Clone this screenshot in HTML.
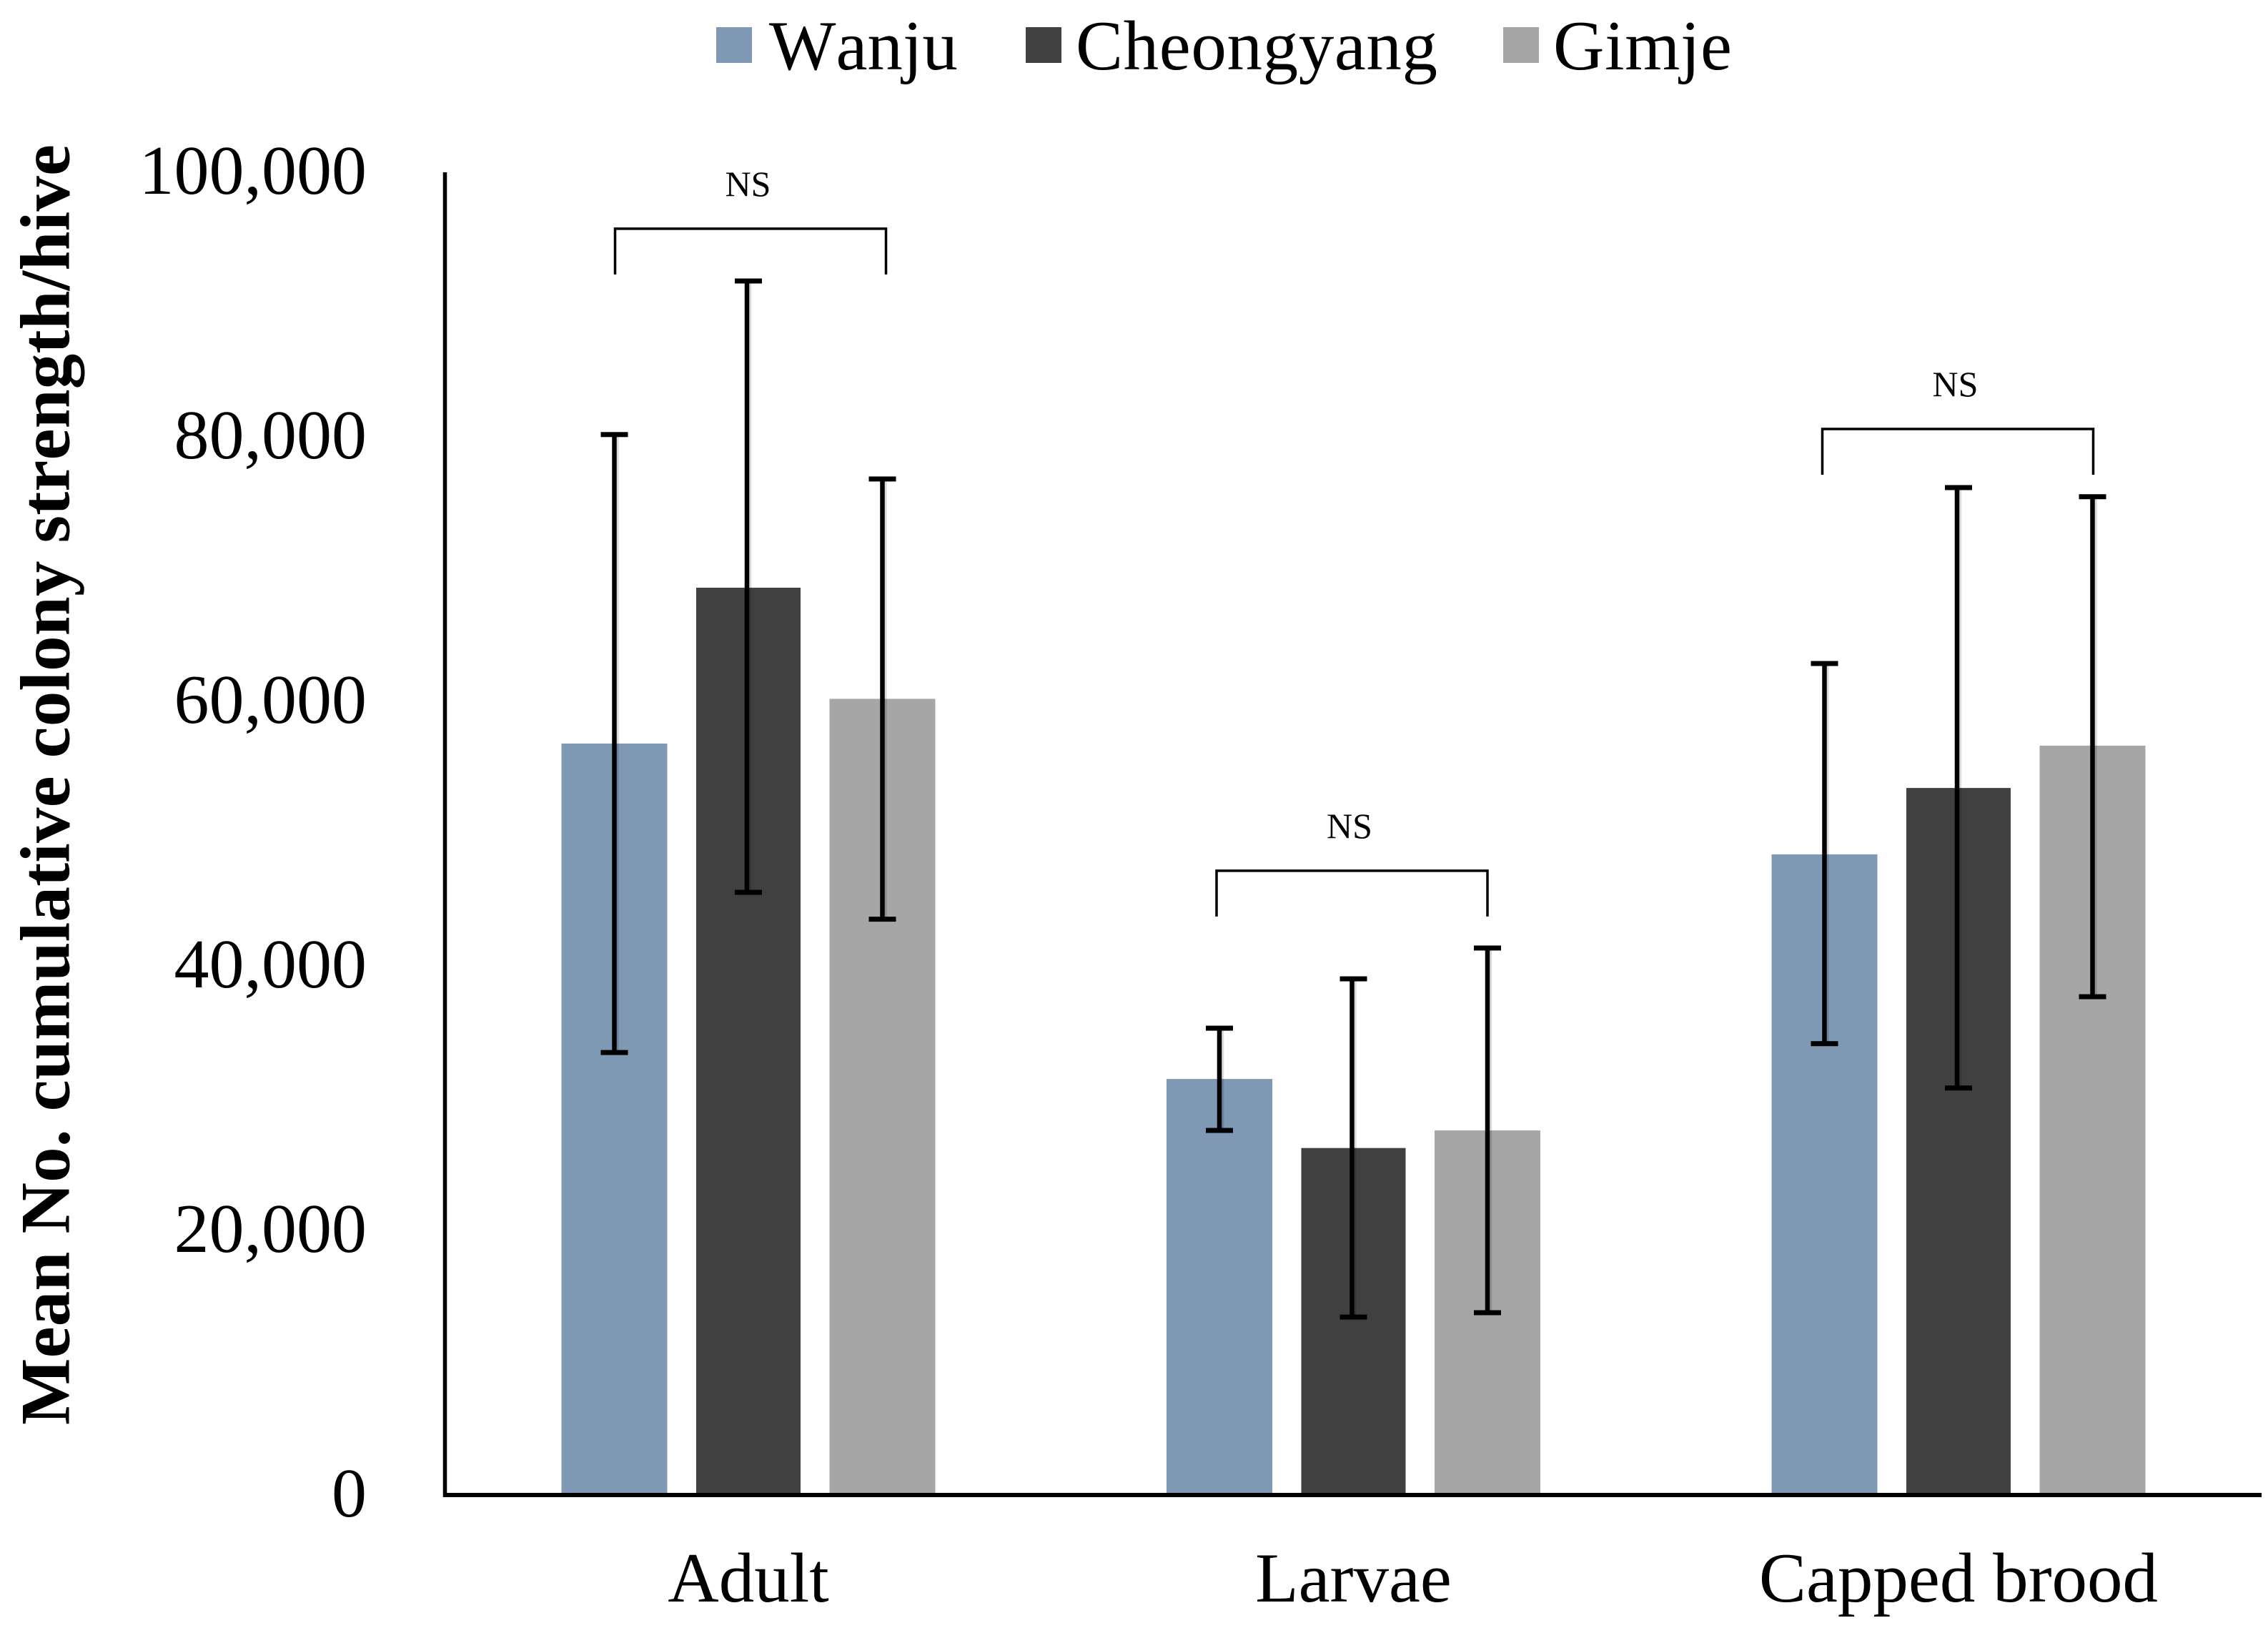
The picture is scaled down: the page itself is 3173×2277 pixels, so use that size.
<!DOCTYPE html>
<html lang="en">
<head>
<meta charset="utf-8">
<title>Mean cumulative colony strength per hive</title>
<style>
  html, body { margin: 0; padding: 0; background: #ffffff; }
  svg { display: block; }
  text { font-family: "Liberation Serif", "Times New Roman", serif; fill: #000000; font-kerning: none; }
</style>
</head>
<body>
<svg id="chart" xmlns="http://www.w3.org/2000/svg" width="3173" height="2277" viewBox="0 0 3173 2277">
  <rect x="0" y="0" width="3173" height="2277" fill="#ffffff"/>

  <g>
    <rect x="1002" y="38" width="50" height="50" fill="#7f98b3"/>
    <text x="1076" y="97" font-size="99">Wanju</text>
    <rect x="1435" y="38" width="50" height="50" fill="#404040"/>
    <text x="1505" y="97" font-size="99" textLength="506" lengthAdjust="spacing">Cheongyang</text>
    <rect x="2103" y="38" width="50" height="50" fill="#a6a6a6"/>
    <text x="2173" y="97" font-size="99" textLength="250" lengthAdjust="spacing">Gimje</text>
  </g>

  <text transform="translate(96.5 1993) rotate(-90)" font-size="99" font-weight="bold" textLength="1791" lengthAdjust="spacing">Mean No. cumulative colony strength/hive</text>

  <g id="bars"></g>
  <g id="errors"></g>
  <g id="brackets"></g>
  <g id="yticks"></g>
  <g id="xticks"></g>

  <line x1="622.5" y1="241" x2="622.5" y2="2094" stroke="#000000" stroke-width="5.5"/>
  <line x1="620" y1="2091" x2="3164" y2="2091" stroke="#000000" stroke-width="6"/>
</svg>

<script>
const categories = ['Adult', 'Larvae', 'Capped brood'];
const seriesNames = ['Wanju', 'Cheongyang', 'Gimje'];
const wanjuMeans = [56760, 31400, 48380];
const cheongyangMeans = [68540, 26180, 53400];
const gimjeMeans = [60140, 27510, 56600];
const wanjuUpper = [80120, 35240, 62810];
const cheongyangUpper = [91730, 38970, 76110];
const gimjeUpper = [76760, 41300, 75420];
const wanjuLower = [33400, 27510, 34070];
const cheongyangLower = [45510, 13400, 30720];
const gimjeLower = [43480, 13730, 37620];
const bracketLevels = [95680, 47140, 80540];
const bracketLabels = ['NS', 'NS', 'NS'];
const yTickValues = [0, 20000, 40000, 60000, 80000, 100000];
const yTickLabels = ['0', '20,000', '40,000', '60,000', '80,000', '100,000'];

const seriesColors = ['#7f98b3', '#404040', '#a6a6a6'];
const allMeans = [wanjuMeans, cheongyangMeans, gimjeMeans];
const allUpper = [wanjuUpper, cheongyangUpper, gimjeUpper];
const allLower = [wanjuLower, cheongyangLower, gimjeLower];

const SVG_NS = 'http://www.w3.org/2000/svg';
const PLOT_ZERO = 2090;
const PX_PER_UNIT = 18.5 / 1000;
const GROUP_FIRST = 1047;
const GROUP_STEP = 846.5;
const BAR_STEP = 187.5;
const BAR_WIDTH = 148;
const MIDDLE_BAR_WIDTH = 146;
const BAR_BOTTOM = 2088;
const CAP_WIDTH = 38;
const CAP_HEIGHT = 7;
const STEM_WIDTH = 6.5;
const BRACKET_HALF = 189.5;
const BRACKET_LEG = 64;

function yScale(value) { return PLOT_ZERO - value * PX_PER_UNIT; }
function groupCenter(g) { return GROUP_FIRST + GROUP_STEP * g; }
function xScale(g, s) { return groupCenter(g) + (s - 1) * BAR_STEP; }
function bracketCenter(g) { return groupCenter(g) + (g === 0 ? 3 : g === 1 ? -2 : -1); }
function slug(t) { return t.toLowerCase().replace(/\s+/g, '-'); }

function make(tag, parent, attrs) {
  const el = document.createElementNS(SVG_NS, tag);
  for (const k in attrs) el.setAttribute(k, attrs[k]);
  parent.appendChild(el);
  return el;
}

const barsGroup = document.getElementById('bars');
const errorsGroup = document.getElementById('errors');
const bracketsGroup = document.getElementById('brackets');
const yTicksGroup = document.getElementById('yticks');
const xTicksGroup = document.getElementById('xticks');

categories.forEach(function (cat, g) {
  seriesNames.forEach(function (name, s) {
    const cx = xScale(g, s);
    const top = yScale(allMeans[s][g]);
    const w = s === 1 ? MIDDLE_BAR_WIDTH : BAR_WIDTH;
    const bar = make('rect', barsGroup, { x: cx - w / 2, y: top, width: w, height: BAR_BOTTOM - top, fill: seriesColors[s] });
    
    
  });
});

categories.forEach(function (cat, g) {
  seriesNames.forEach(function (name, s) {
    const cx = xScale(g, s);
    const hi = yScale(allUpper[s][g]);
    const lo = yScale(allLower[s][g]);
    const wrap = make('g', errorsGroup, {});
    
    
    const stemX = cx - (s === 1 ? 2 : 0);
    make('rect', wrap, { x: stemX + STEM_WIDTH / 2, y: hi, width: 3, height: lo - hi, fill: 'rgba(0,0,0,0.14)' });
    make('rect', wrap, { x: stemX - STEM_WIDTH / 2, y: hi, width: STEM_WIDTH, height: lo - hi, fill: '#000000' });
    make('rect', wrap, { x: cx - CAP_WIDTH / 2, y: hi - CAP_HEIGHT / 2, width: CAP_WIDTH, height: CAP_HEIGHT, fill: '#000000' });
    make('rect', wrap, { x: cx - CAP_WIDTH / 2, y: lo - CAP_HEIGHT / 2, width: CAP_WIDTH, height: CAP_HEIGHT, fill: '#000000' });
  });
});

categories.forEach(function (cat, g) {
  const top = yScale(bracketLevels[g]);
  const center = bracketCenter(g);
  const left = center - BRACKET_HALF;
  const right = center + BRACKET_HALF;
  const path = make('path', bracketsGroup, {
    d: 'M' + left + ' ' + (top + BRACKET_LEG) + 'V' + top + 'H' + right + 'V' + (top + BRACKET_LEG),
    fill: 'none', stroke: '#000000', 'stroke-width': 3.5
  });
  
  
  const label = make('text', bracketsGroup, { x: center - 3.5, y: top - 46, 'text-anchor': 'middle', 'font-size': 50 });
  label.textContent = bracketLabels[g];
  
  
});

yTickValues.forEach(function (v, i) {
  const t = make('text', yTicksGroup, { x: 513, y: yScale(v) + 31, 'text-anchor': 'end', 'font-size': 98 });
  t.textContent = yTickLabels[i];
  
  
});

categories.forEach(function (cat, g) {
  const t = make('text', xTicksGroup, { x: groupCenter(g), y: 2240, 'text-anchor': 'middle', 'font-size': 99 });
  t.textContent = cat;
  
  
});
</script>
</body>
</html>
